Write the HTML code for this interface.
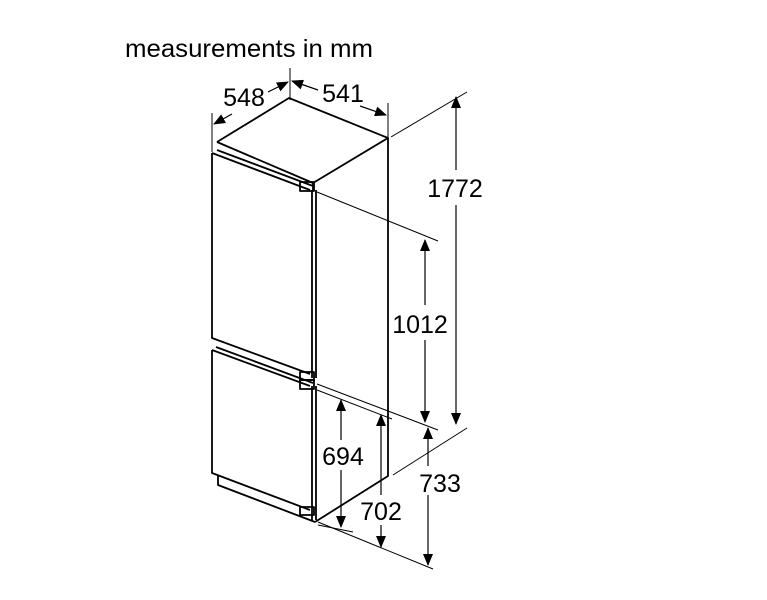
<!DOCTYPE html>
<html><head><style>
html,body{margin:0;padding:0;background:#fff;}
svg{display:block;font-family:"Liberation Sans",sans-serif;}
</style></head><body>
<svg width="767" height="600" viewBox="0 0 767 600">
<defs>
<marker id="a" markerWidth="12" markerHeight="10" refX="11" refY="5" orient="auto" markerUnits="userSpaceOnUse">
<path d="M0,0 L12,5 L0,10 z" fill="#000"/>
</marker>
</defs>
<text x="125" y="57" font-size="25" textLength="248" lengthAdjust="spacingAndGlyphs" fill="#000">measurements in mm</text>
<g fill="none" stroke="#000" stroke-width="1.8" stroke-linejoin="round">
<path d="M217,142 L289,98 L388,138 L313,183 L217,142"/>
<path d="M388,138 L388,476 L315,522"/>
<path d="M313,183 L313,190"/>
<path d="M212,153 L212,338 L310,374"/>
<path d="M212,153 L310,190 M217,150 L313,186"/>
<path d="M312,190 L312,378 M316,190 L316,378"/>
<rect x="300" y="182" width="14" height="9"/>
<rect x="300" y="372" width="14" height="8"/>
<path d="M212,350 L212,473 L310,510"/>
<path d="M212,350 L310,386 M216,347 L313,383"/>
<path d="M312,386 L312,520 M316,386 L316,520"/>
<rect x="300" y="380" width="14" height="9"/>
<rect x="300" y="507" width="14" height="8"/>
<path d="M218,475 L218,485 L315,522"/>
</g>
<g fill="none" stroke="#000" stroke-width="1">
<path d="M212,113 L212,152"/>
<path d="M290,68 L290,100"/>
<path d="M388,103 L388,138"/>
<path d="M391,137 L467,92"/>
<path d="M317,192 L438,241"/>
<path d="M317,384 L438,430"/>
<path d="M317,390 L392,419"/>
<path d="M467,428 L393,475"/>
<path d="M318,522 L433,569"/>
<path d="M318,525 L353,532"/>
</g>
<g fill="none" stroke="#000" stroke-width="1.2">
<path d="M268,92 L288,82" marker-end="url(#a)"/>
<path d="M232,114 L214,124" marker-end="url(#a)"/>
<path d="M318,90 L292,81" marker-end="url(#a)"/>
<path d="M360,106 L386,115" marker-end="url(#a)"/>
<path d="M456,170 L456,97" marker-end="url(#a)"/>
<path d="M456,205 L456,424" marker-end="url(#a)"/>
<path d="M425,305 L425,240" marker-end="url(#a)"/>
<path d="M425,340 L425,422" marker-end="url(#a)"/>
<path d="M428,466 L428,428" marker-end="url(#a)"/>
<path d="M428,495 L428,565" marker-end="url(#a)"/>
<path d="M341,440 L341,400" marker-end="url(#a)"/>
<path d="M341,470 L341,527" marker-end="url(#a)"/>
<path d="M381,495 L381,415" marker-end="url(#a)"/>
<path d="M381,525 L381,547" marker-end="url(#a)"/>
</g>
<g font-size="25" fill="#000" text-anchor="middle">
<text x="244" y="106">548</text>
<text x="343" y="102">541</text>
<text x="455" y="197">1772</text>
<text x="420" y="333">1012</text>
<text x="440" y="492">733</text>
<text x="343" y="465">694</text>
<text x="381" y="520">702</text>
</g>
</svg>
</body></html>
